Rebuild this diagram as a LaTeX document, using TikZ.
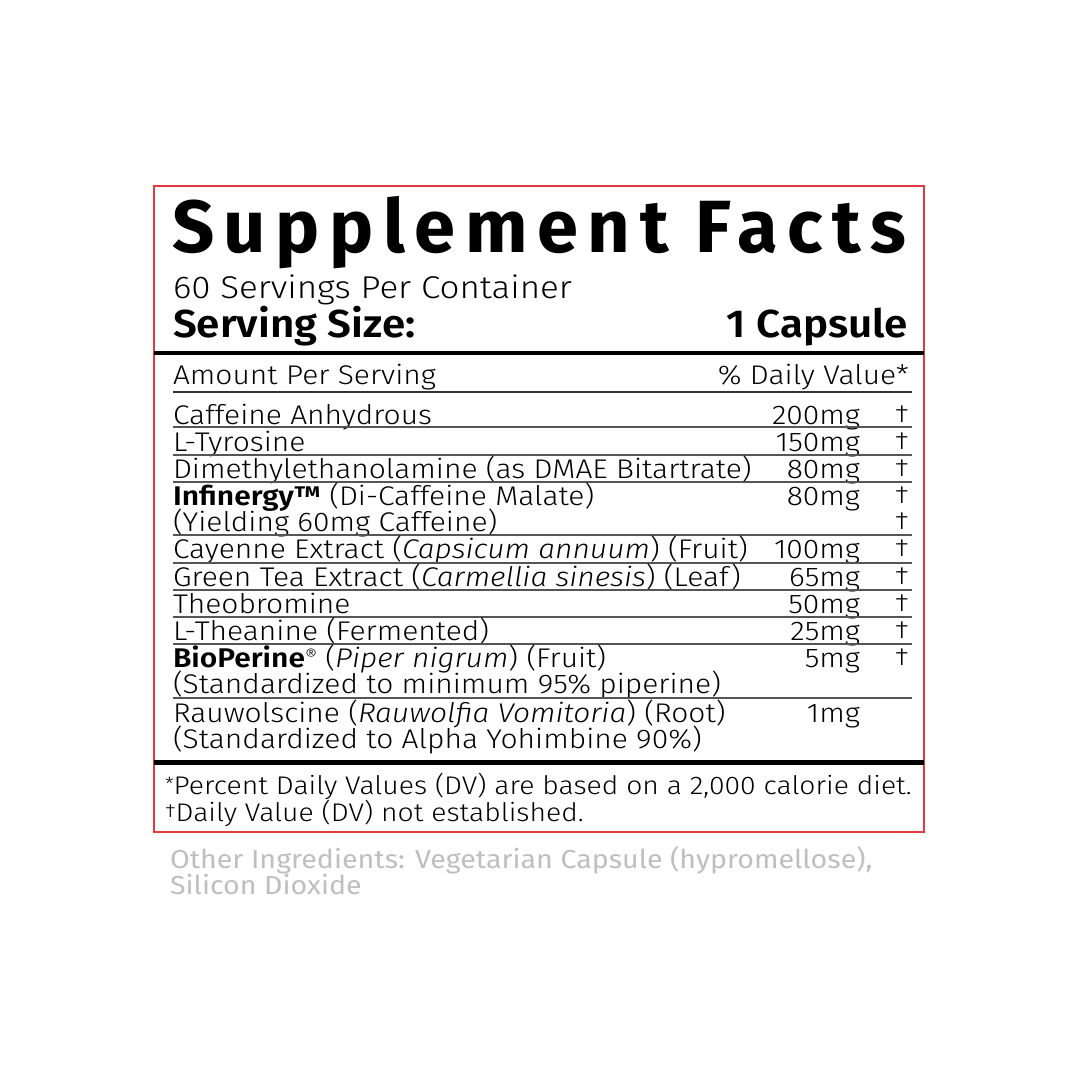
\documentclass[tikz,border=0pt]{standalone}
\usepackage{fontspec}
\setmainfont{Fira Sans}[UprightFont=* Light, ItalicFont=* Light Italic, BoldFont=* SemiBold, BoldItalicFont=* SemiBold Italic, FakeStretch=1.11]
\newfontfamily\titlefont{Fira Sans}[UprightFont=* Bold, LetterSpace=13]
\newfontfamily\headfont{Fira Sans}[UprightFont=* SemiBold, FakeStretch=1.08]
\newfontfamily\otherfont{Fira Sans}[UprightFont=*, FakeStretch=1.1]
\definecolor{labelred}{HTML}{E0393E}
\definecolor{rulegray}{HTML}{555555}
\begin{document}
\begin{tikzpicture}[x=1pt,y=-1pt,
  base/.style={inner sep=0pt, outer sep=0pt},
  txt/.style={base, anchor=base west, font=\fontsize{27}{27}\selectfont},
  amt/.style={base, anchor=base east, font=\fontsize{27}{27}\selectfont},
  dag/.style={base, anchor=base, font=\fontsize{25}{25}\selectfont, yshift=2pt},
  foot/.style={base, anchor=base west, font=\fontsize{25.5}{25.5}\selectfont},
  rowrule/.style={draw=rulegray, line width=1.1pt},
  thick rule/.style={draw=black, line width=4.5pt},
  other/.style={base, anchor=base west, text=black!25, font=\fontsize{26}{26}\otherfont}
]
\useasboundingbox (0,0) rectangle (1080,1080);
\fill[white] (0,0) rectangle (1080,1080);
% frame
\draw[labelred, line width=2.5pt] (154,186) rectangle (924,832);
% title
\node[base, anchor=base west, font=\fontsize{74}{74}\titlefont] (title) at (172,252) {Supplement Facts};
\node[base, anchor=base west, font=\fontsize{31.5}{31.5}\selectfont] (servings) at (173,298) {60 Servings Per Container};
\node[base, anchor=base west, font=\fontsize{39}{39}\headfont] (ssize) at (173,337) {Serving Size:};
\node[base, anchor=base east, font=\fontsize{39}{39}\headfont] (capsule) at (908,337) {1 Capsule};
\draw[thick rule] (154,353) -- (924,353);
\node[txt] (aps) at (173,384) {Amount Per Serving};
\node[amt] (pdv) at (909,384) {\% Daily Value*};
\draw[draw=black!80, line width=1.6pt] (173,392) -- (912,392);
% rows
\node[txt] (r1) at (173,424) {Caffeine Anhydrous};
\node[amt] (a1) at (860,424) {200mg};
\node[dag] (d1) at (902,424) {†};
\draw[rowrule] (173,427) -- (912,427);
\node[txt] (r2) at (173,451) {L-Tyrosine};
\node[amt] (a2) at (860,451) {150mg};
\node[dag] (d2) at (902,451) {†};
\draw[rowrule] (173,455) -- (912,455);
\node[txt] (r3) at (173,478) {Dimethylethanolamine (as DMAE Bitartrate)};
\node[amt] (a3) at (860,478) {80mg};
\node[dag] (d3) at (902,478) {†};
\draw[rowrule] (173,482) -- (912,482);
\node[txt] (r4) at (173,505) {\textbf{Infinergy™} (Di-Caffeine Malate)};
\node[amt] (a4) at (860,505) {80mg};
\node[dag] (d4) at (902,505) {†};
\node[txt] (r4b) at (173,531) {(Yielding 60mg Caffeine)};
\node[dag] (d4b) at (902,531) {†};
\draw[rowrule] (173,535) -- (912,535);
\node[txt] (r5) at (173,558) {Cayenne Extract (\textit{Capsicum annuum}) (Fruit)};
\node[amt] (a5) at (860,558) {100mg};
\node[dag] (d5) at (902,558) {†};
\draw[rowrule] (173,563) -- (912,563);
\node[txt] (r6) at (173,586) {Green Tea Extract (\textit{Carmellia sinesis}) (Leaf)};
\node[amt] (a6) at (860,586) {65mg};
\node[dag] (d6) at (902,586) {†};
\draw[rowrule] (173,590) -- (912,590);
\node[txt] (r7) at (173,613) {Theobromine};
\node[amt] (a7) at (860,613) {50mg};
\node[dag] (d7) at (902,613) {†};
\draw[rowrule] (173,617) -- (912,617);
\node[txt] (r8) at (173,640) {L-Theanine (Fermented)};
\node[amt] (a8) at (860,640) {25mg};
\node[dag] (d8) at (902,640) {†};
\draw[rowrule] (173,644) -- (912,644);
\node[txt] (r9) at (173,667) {\textbf{BioPerine}\raisebox{6pt}{\fontsize{17}{17}\selectfont ®} (\textit{Piper nigrum}) (Fruit)};
\node[amt] (a9) at (860,667) {5mg};
\node[dag] (d9) at (902,667) {†};
\node[txt] (r9b) at (173,693) {(Standardized to minimum 95\% piperine)};
\draw[rowrule] (173,698) -- (912,698);
\node[txt] (r10) at (173,722) {Rauwolscine (\textit{Rauwolfia Vomitoria}) (Root)};
\node[amt] (a10) at (860,722) {1mg};
\node[txt] (r10b) at (173,748) {(Standardized to Alpha Yohimbine 90\%)};
\draw[draw=black, line width=5pt] (154,762) -- (924,762);
% footnotes
\node[foot] (f1) at (165,794) {\raisebox{4pt}{\fontsize{18}{18}\selectfont *}Percent Daily Values (DV) are based on a 2,000 calorie diet.};
\node[foot] (f2) at (165,821) {\raisebox{4pt}{\fontsize{19}{19}\selectfont †}Daily Value (DV) not established.};
% other ingredients
\node[other] (o1) at (170,868) {Other Ingredients: Vegetarian Capsule (hypromellose),};
\node[other] (o2) at (170,894) {Silicon Dioxide};
\end{tikzpicture}
\end{document}
